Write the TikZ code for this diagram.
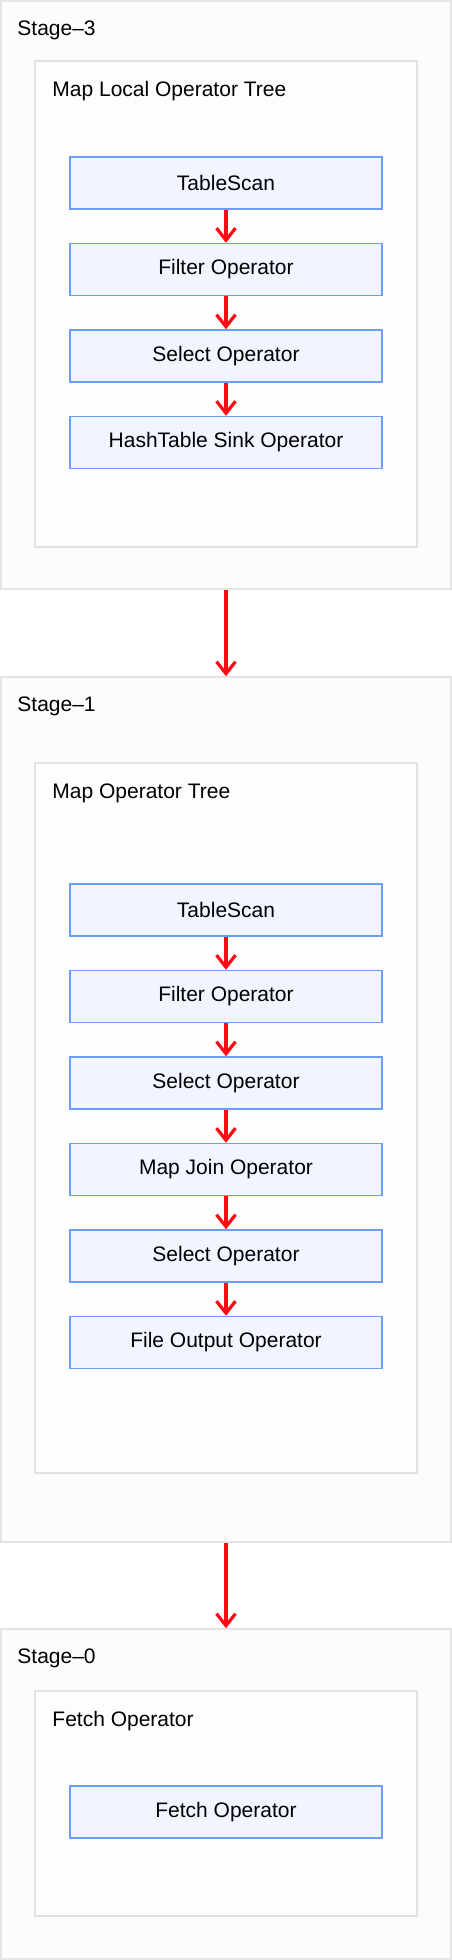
\documentclass[tikz,border=0pt]{standalone}
\usepackage{fontspec}
\setmainfont{Liberation Sans}
\usetikzlibrary{arrows.meta,positioning}
\definecolor{stageline}{HTML}{E4E4E4}
\definecolor{stagefill}{HTML}{FCFCFC}
\definecolor{treeline}{HTML}{E2E2E2}
\definecolor{treefill}{HTML}{FDFDFD}
\definecolor{opline}{HTML}{6E9DF6}
\definecolor{opfill}{HTML}{F0F5FF}
\definecolor{flowred}{HTML}{FF0A14}

\begin{document}
\begin{tikzpicture}[x=1pt,y=-1pt,
    stagebox/.style={draw=stageline,fill=stagefill,line width=1.5pt,
                     minimum width=450pt,inner sep=0pt},
    treebox/.style={draw=treeline,fill=treefill,line width=1.5pt,
                    minimum width=382pt,inner sep=0pt},
    opbox/.style={draw=opline,fill=opfill,line width=1.5pt,
                  minimum width=312pt,minimum height=52pt,inner sep=0pt,
                  font=\fontsize{21}{25}\selectfont},
    caption/.style={anchor=base west,inner sep=0pt,
                    font=\fontsize{21}{25}\selectfont},
    flow/.style={draw=flowred,line width=3.2pt,
                 -{Straight Barb[length=12pt,width=19pt]}}]
    \useasboundingbox (0,0) rectangle (452,1960);

    % stage 3
    \node[stagebox,minimum height=588pt] (stage3) at (226,295) {};
    \node[caption] (stage3label) at ([shift={(17,35)}]stage3.north west) {Stage–3};
    \node[treebox,minimum height=486pt] (tree3) at (226,304) {};
    \node[caption] (tree3label) at ([shift={(18,36)}]tree3.north west) {Map Local Operator Tree};
    \node[opbox] (scan3) at (226,183) {TableScan};
    \node[opbox,below=33pt of scan3] (filter3) {Filter Operator};
    \node[opbox,below=33pt of filter3] (select3) {Select Operator};
    \node[opbox,below=33pt of select3] (sink3) {HashTable Sink Operator};
    \draw[flow] (scan3)--(filter3);
    \draw[flow] (filter3)--(select3);
    \draw[flow] (select3)--(sink3);

    % stage 1
    \node[stagebox,minimum height=865pt] (stage1) at (226,1109.5) {};
    \node[caption] (stage1label) at ([shift={(17,35)}]stage1.north west) {Stage–1};
    \node[treebox,minimum height=710pt] (tree1) at (226,1118) {};
    \node[caption] (tree1label) at ([shift={(18,36)}]tree1.north west) {Map Operator Tree};
    \node[opbox] (scan1) at (226,910) {TableScan};
    \node[opbox,below=33pt of scan1] (filter1) {Filter Operator};
    \node[opbox,below=33pt of filter1] (select1) {Select Operator};
    \node[opbox,below=33pt of select1] (join1) {Map Join Operator};
    \node[opbox,below=33pt of join1] (select1b) {Select Operator};
    \node[opbox,below=33pt of select1b] (output1) {File Output Operator};
    \draw[flow] (scan1)--(filter1);
    \draw[flow] (filter1)--(select1);
    \draw[flow] (select1)--(join1);
    \draw[flow] (join1)--(select1b);
    \draw[flow] (select1b)--(output1);

    % stage 0
    \node[stagebox,minimum height=330pt] (stage0) at (226,1794) {};
    \node[caption] (stage0label) at ([shift={(17,35)}]stage0.north west) {Stage–0};
    \node[treebox,minimum height=225pt] (tree0) at (226,1803.5) {};
    \node[caption] (tree0label) at ([shift={(18,36)}]tree0.north west) {Fetch Operator};
    \node[opbox] (fetch0) at (226,1812) {Fetch Operator};

    % between stages
    \draw[flow] (stage3)--(stage1);
    \draw[flow] (stage1)--(stage0);
\end{tikzpicture}
\end{document}
